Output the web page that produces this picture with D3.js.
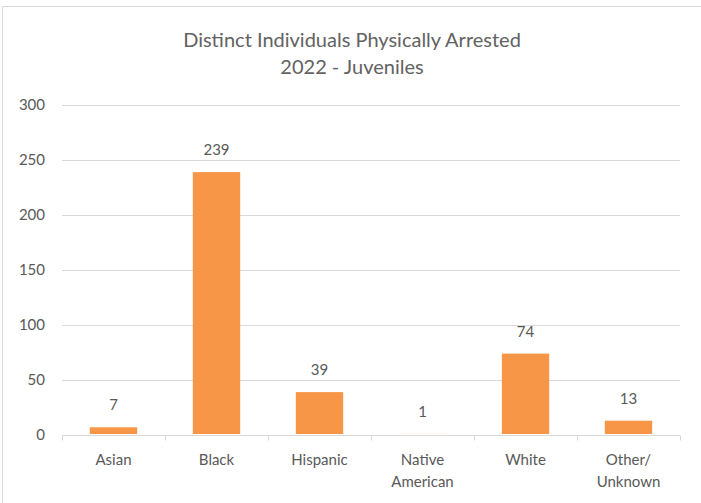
<!DOCTYPE html>
<html>
<head>
<meta charset="utf-8">
<script src="https://cdn.jsdelivr.net/npm/d3@7"></script>
<style>
  body { margin: 0; background: #fff; }
  text { font-family: Lato, "Open Sans", sans-serif; fill: #595959; }
</style>
</head>
<body>
<div id="vis1"></div>
<script>
// chart data
const categories = ["Asian", "Black", "Hispanic", "Native American", "White", "Other/ Unknown"];
const values = [7, 239, 39, 1, 74, 13];
const yTicks = [0, 50, 100, 150, 200, 250, 300];
const titleLines = ["Distinct Individuals Physically Arrested", "2022 - Juveniles"];

const FRAME_WIDTH = 701;
const FRAME_HEIGHT = 503;
const MARGINS = {left: 62, right: 21, top: 105, bottom: 68};

const svg = d3.select("#vis1")
  .append("svg")
    .attr("width", FRAME_WIDTH)
    .attr("height", FRAME_HEIGHT);

// outer chart border (only top/left visible)
svg.append("path")
  .attr("d", `M2.5,${FRAME_HEIGHT} V6.5 H${FRAME_WIDTH}`)
  .attr("fill", "none")
  .attr("stroke", "#d9d9d9")
  .attr("stroke-width", 1);

const X_SCALE = d3.scaleBand()
  .domain(categories)
  .range([MARGINS.left, FRAME_WIDTH - MARGINS.right])
  .paddingInner(0.54)
  .paddingOuter(0.27);

const Y_SCALE = d3.scaleLinear()
  .domain([0, 300])
  .range([FRAME_HEIGHT - MARGINS.bottom, MARGINS.top]);

// title
svg.append("g").selectAll("text")
  .data(titleLines)
  .enter()
  .append("text")
    .attr("x", 352)
    .attr("y", (d, i) => 47 + i * 27)
    .attr("text-anchor", "middle")
    .style("font-size", "20px")
    .style("fill", "#626262")
    .text(d => d);

// gridlines
svg.append("g").selectAll("line")
  .data(yTicks.filter(d => d > 0))
  .enter()
  .append("line")
    .attr("x1", MARGINS.left)
    .attr("x2", FRAME_WIDTH - MARGINS.right)
    .attr("y1", d => Math.round(Y_SCALE(d)) + 0.5)
    .attr("y2", d => Math.round(Y_SCALE(d)) + 0.5)
    .attr("stroke", "#d9d9d9")
    .attr("stroke-width", 1);

// y labels
svg.append("g").selectAll("text")
  .data(yTicks)
  .enter()
  .append("text")
    .attr("x", 45)
    .attr("y", d => Y_SCALE(d) + 5)
    .attr("text-anchor", "end")
    .style("font-size", "15px")
    .text(d => d);

// bars
svg.append("g").selectAll("rect")
  .data(values)
  .enter()
  .append("rect")
    .attr("x", (d, i) => X_SCALE(categories[i]))
    .attr("y", d => Y_SCALE(d))
    .attr("width", X_SCALE.bandwidth())
    .attr("height", d => Y_SCALE(0) - Y_SCALE(d) - 1)
    .attr("fill", "#f79646");

// data labels
svg.append("g").selectAll("text")
  .data(values)
  .enter()
  .append("text")
    .attr("x", (d, i) => X_SCALE(categories[i]) + X_SCALE.bandwidth() / 2)
    .attr("y", d => Y_SCALE(d) - 17)
    .attr("text-anchor", "middle")
    .style("font-size", "15px")
    .text(d => d);

// x axis line
const xg = svg.append("g")
  .attr("transform", `translate(0,${Math.round(Y_SCALE(0)) + 0.5})`);
xg.append("line")
  .attr("x1", MARGINS.left).attr("x2", FRAME_WIDTH - MARGINS.right)
  .attr("stroke", "#d9d9d9");

// category boundary ticks
const step = X_SCALE.step();
const x0 = X_SCALE(categories[0]) - step * X_SCALE.paddingOuter();
xg.selectAll(".sep")
  .data(d3.range(categories.length + 1))
  .enter()
  .append("line")
    .attr("class", "sep")
    .attr("x1", i => Math.round(x0 + i * step) + 0.5)
    .attr("x2", i => Math.round(x0 + i * step) + 0.5)
    .attr("y1", 0).attr("y2", 5)
    .attr("stroke", "#d9d9d9");

// category labels, wrapped on the space
const catText = svg.append("g").selectAll("text")
  .data(categories)
  .enter()
  .append("text")
    .attr("x", d => X_SCALE(d) + X_SCALE.bandwidth() / 2)
    .attr("y", 465)
    .attr("text-anchor", "middle")
    .style("font-size", "15px");
catText.each(function(d) {
  const parts = d.split(" ");
  d3.select(this).selectAll("tspan")
    .data(parts)
    .enter()
    .append("tspan")
      .attr("x", d3.select(this).attr("x"))
      .attr("dy", (p, i) => i === 0 ? 0 : 22)
      .text(p => p);
});
</script>
</body>
</html>
